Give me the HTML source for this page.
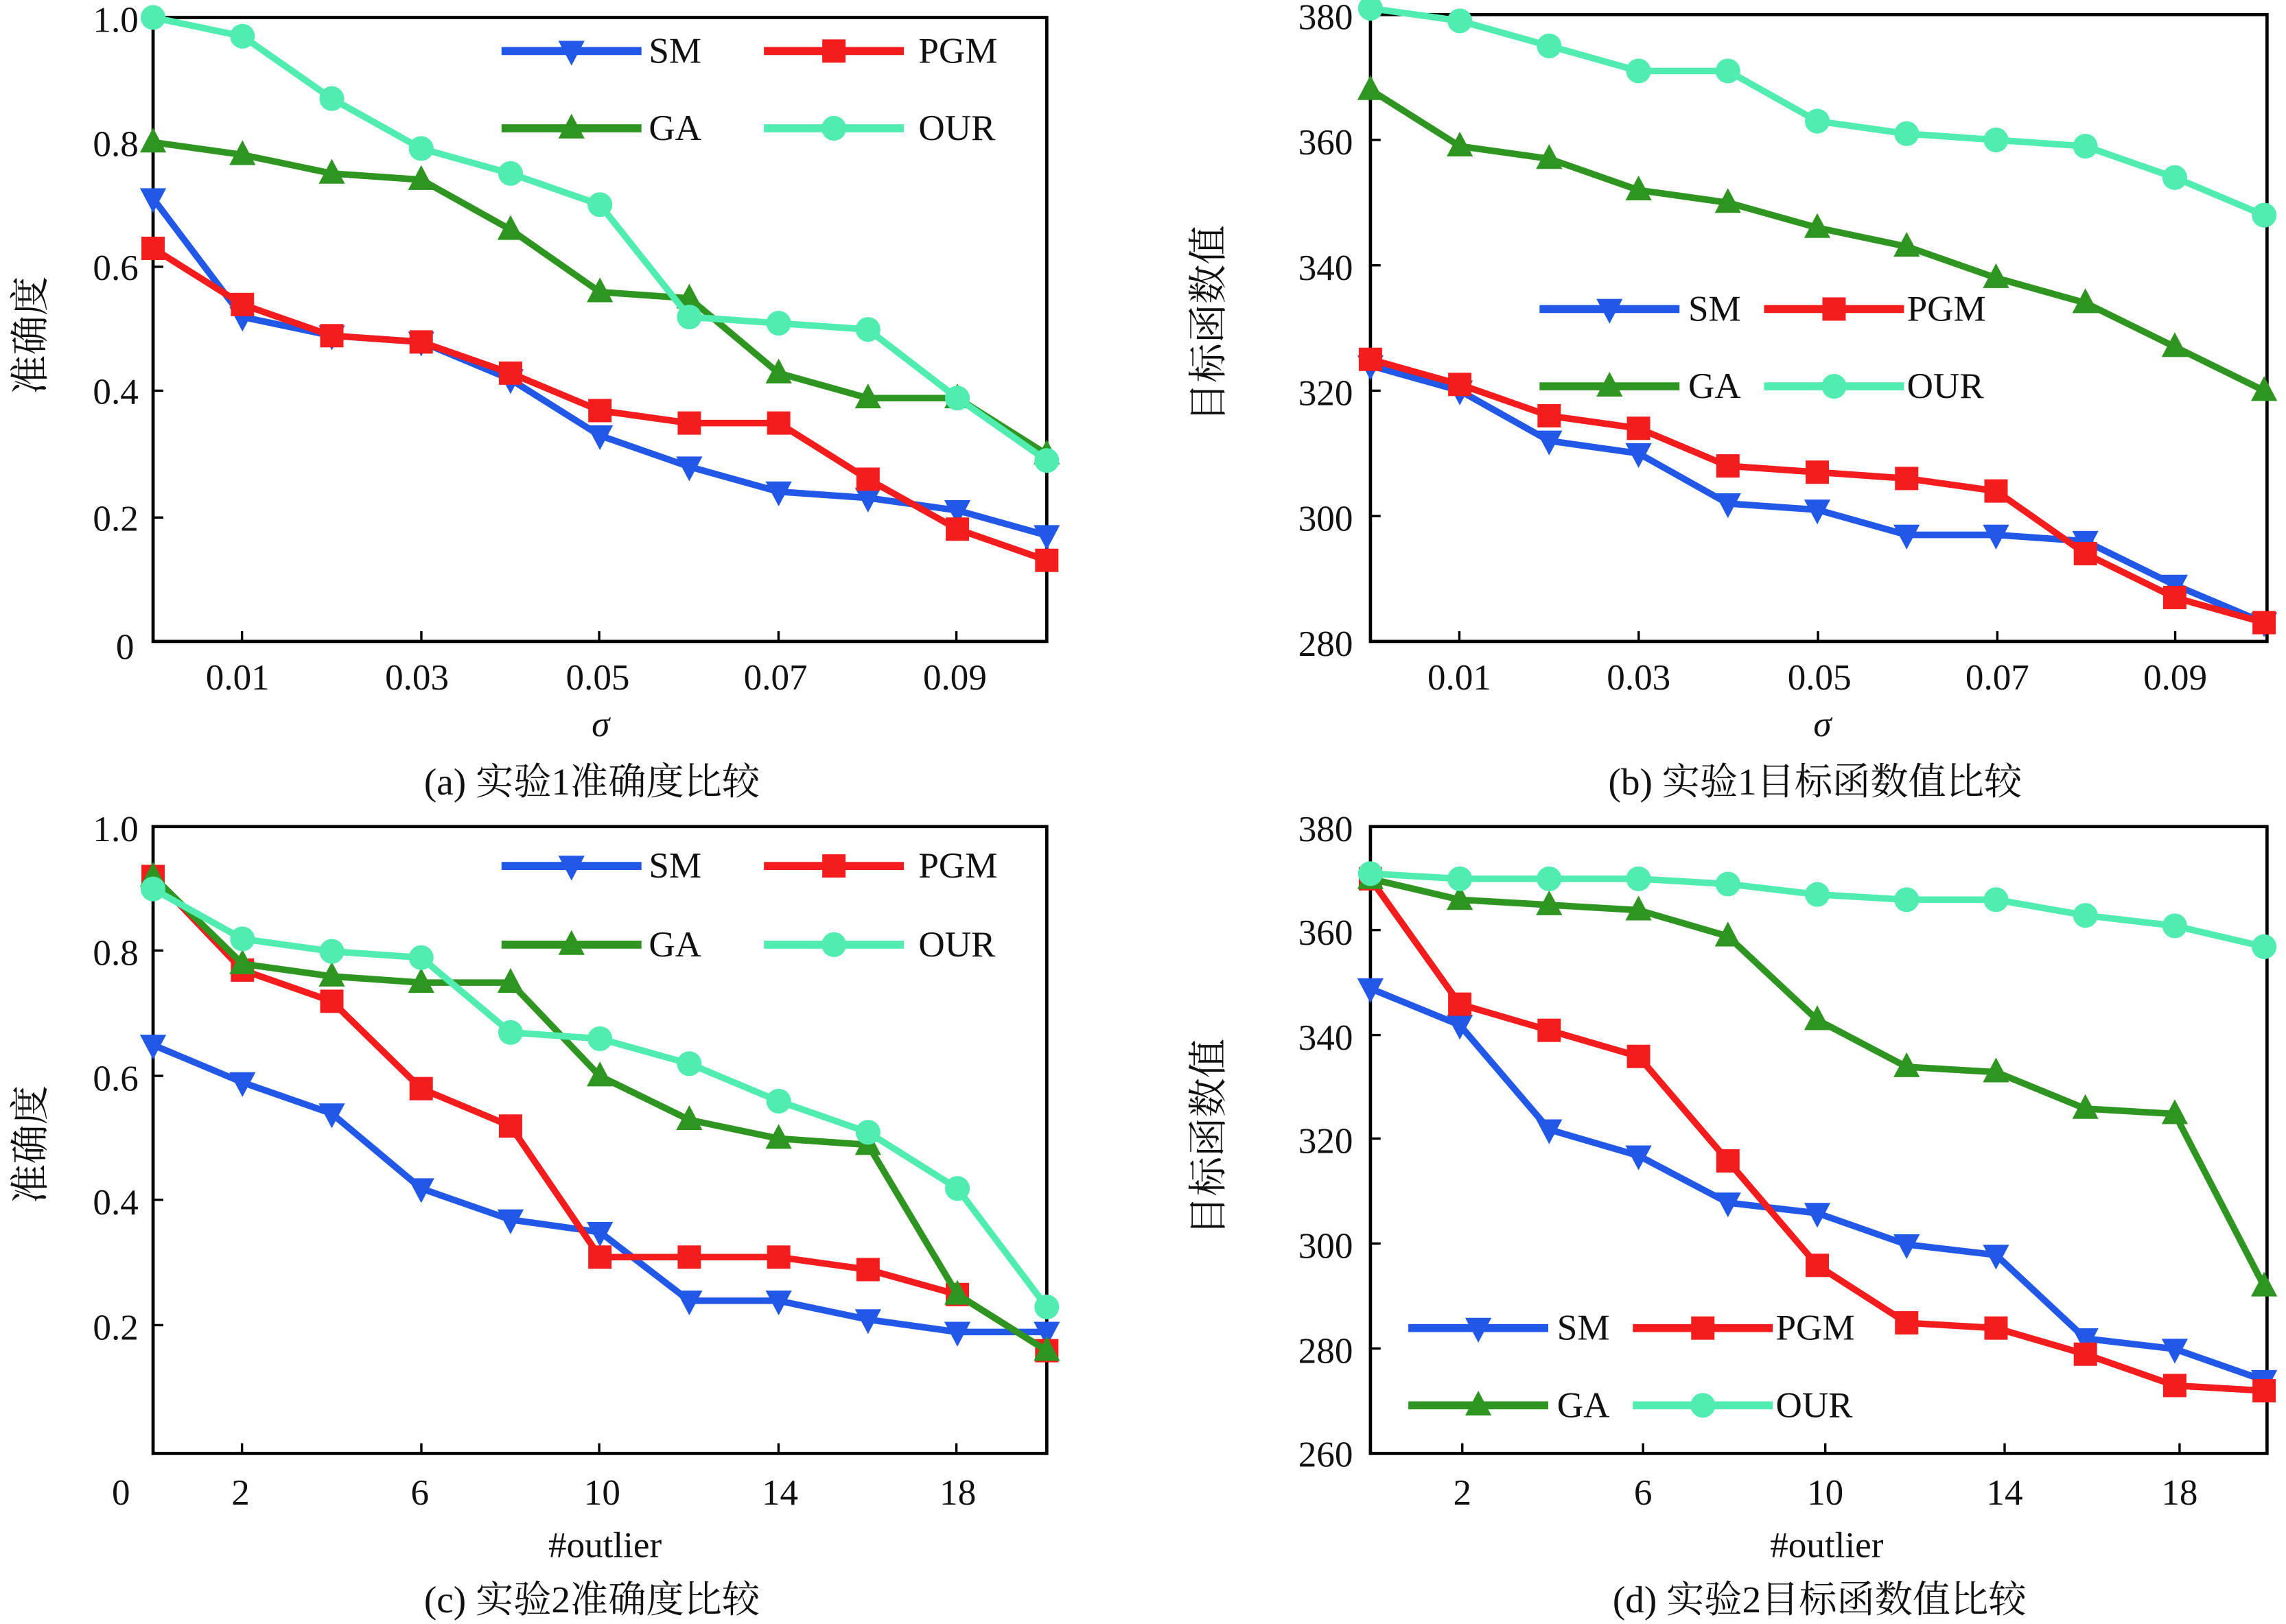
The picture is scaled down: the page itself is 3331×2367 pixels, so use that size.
<!DOCTYPE html>
<html><head><meta charset="utf-8"><style>
html,body{margin:0;padding:0;background:#fff;}
svg{display:block;}
text{font-family:"Liberation Serif","Noto Serif CJK SC",serif;fill:#111;}
</style></head><body>
<svg id="s" width="3331" height="2367" viewBox="0 0 1568 1114" preserveAspectRatio="none" xmlns="http://www.w3.org/2000/svg">
<g id="axes" stroke="#000" stroke-width="2.2" fill="none">
<rect x="105" y="12" width="613" height="428"/>
<rect x="940" y="10" width="615" height="430"/>
<rect x="105" y="567" width="613" height="430"/>
<rect x="940" y="567" width="615" height="430"/>
</g>
<g id="ticks" stroke="#000" stroke-width="1.6"></g>
<g id="series"></g>
<g font-size="25">
<!-- a -->
<text x="95" y="22" text-anchor="end">1.0</text>
<text x="95" y="107" text-anchor="end">0.8</text>
<text x="95" y="192" text-anchor="end">0.6</text>
<text x="95" y="277" text-anchor="end">0.4</text>
<text x="95" y="364" text-anchor="end">0.2</text>
<text x="92" y="452" text-anchor="end">0</text>
<text x="163" y="473" text-anchor="middle">0.01</text>
<text x="286" y="473" text-anchor="middle">0.03</text>
<text x="410" y="473" text-anchor="middle">0.05</text>
<text x="532" y="473" text-anchor="middle">0.07</text>
<text x="655" y="473" text-anchor="middle">0.09</text>
<text x="412" y="505" text-anchor="middle" font-style="italic">σ</text>
<text x="406" y="545" text-anchor="middle" font-size="26">(a) 实验1准确度比较</text>
<text transform="translate(30,230) rotate(-90)" text-anchor="middle" font-size="27">准确度</text>
<!-- b -->
<text x="928" y="20" text-anchor="end">380</text>
<text x="928" y="106" text-anchor="end">360</text>
<text x="928" y="192" text-anchor="end">340</text>
<text x="928" y="278" text-anchor="end">320</text>
<text x="928" y="364" text-anchor="end">300</text>
<text x="928" y="450" text-anchor="end">280</text>
<text x="1001" y="473" text-anchor="middle">0.01</text>
<text x="1124" y="473" text-anchor="middle">0.03</text>
<text x="1248" y="473" text-anchor="middle">0.05</text>
<text x="1370" y="473" text-anchor="middle">0.07</text>
<text x="1492" y="473" text-anchor="middle">0.09</text>
<text x="1250" y="505" text-anchor="middle" font-style="italic">σ</text>
<text x="1245" y="545" text-anchor="middle" font-size="26">(b) 实验1目标函数值比较</text>
<text transform="translate(838,222) rotate(-90)" text-anchor="middle" font-size="27">目标函数值</text>
<!-- c -->
<text x="95" y="577" text-anchor="end">1.0</text>
<text x="95" y="662" text-anchor="end">0.8</text>
<text x="95" y="748" text-anchor="end">0.6</text>
<text x="95" y="833" text-anchor="end">0.4</text>
<text x="95" y="919" text-anchor="end">0.2</text>
<text x="83" y="1032" text-anchor="middle">0</text>
<text x="165" y="1032" text-anchor="middle">2</text>
<text x="288" y="1032" text-anchor="middle">6</text>
<text x="413" y="1032" text-anchor="middle">10</text>
<text x="535" y="1032" text-anchor="middle">14</text>
<text x="657" y="1032" text-anchor="middle">18</text>
<text x="415" y="1068" text-anchor="middle">#outlier</text>
<text x="406" y="1106" text-anchor="middle" font-size="26">(c) 实验2准确度比较</text>
<text transform="translate(30,785) rotate(-90)" text-anchor="middle" font-size="27">准确度</text>
<!-- d -->
<text x="928" y="577" text-anchor="end">380</text>
<text x="928" y="648" text-anchor="end">360</text>
<text x="928" y="720" text-anchor="end">340</text>
<text x="928" y="791" text-anchor="end">320</text>
<text x="928" y="863" text-anchor="end">300</text>
<text x="928" y="935" text-anchor="end">280</text>
<text x="928" y="1006" text-anchor="end">260</text>
<text x="1003" y="1032" text-anchor="middle">2</text>
<text x="1127" y="1032" text-anchor="middle">6</text>
<text x="1252" y="1032" text-anchor="middle">10</text>
<text x="1375" y="1032" text-anchor="middle">14</text>
<text x="1495" y="1032" text-anchor="middle">18</text>
<text x="1253" y="1068" text-anchor="middle">#outlier</text>
<text x="1248" y="1106" text-anchor="middle" font-size="26">(d) 实验2目标函数值比较</text>
<text transform="translate(838,780) rotate(-90)" text-anchor="middle" font-size="27">目标函数值</text>
<!-- legends -->
<text x="445" y="43">SM</text><text x="630" y="43">PGM</text>
<text x="445" y="96">GA</text><text x="630" y="96">OUR</text>
<text x="1158" y="220">SM</text><text x="1308" y="220">PGM</text>
<text x="1158" y="273">GA</text><text x="1308" y="273">OUR</text>
<text x="445" y="602">SM</text><text x="630" y="602">PGM</text>
<text x="445" y="656">GA</text><text x="630" y="656">OUR</text>
<text x="1068" y="919">SM</text><text x="1218" y="919">PGM</text>
<text x="1068" y="972">GA</text><text x="1218" y="972">OUR</text>
</g>
</svg>
<script>
var NS="http://www.w3.org/2000/svg";
var C={SM:"#2158e8",PGM:"#f41c1c",GA:"#2e9620",OUR:"#50ecb0"};
function el(t,a,p){var e=document.createElementNS(NS,t);for(var k in a)e.setAttribute(k,a[k]);p.appendChild(e);return e;}
var G=document.getElementById("series"),T=document.getElementById("ticks");
function marker(k,x,y,g){var c=C[k];
 if(k=="SM")el("polygon",{points:(x-9)+","+(y-7)+" "+(x+9)+","+(y-7)+" "+x+","+(y+10),fill:c},g);
 else if(k=="PGM")el("rect",{x:x-8,y:y-8,width:16,height:16,fill:c},g);
 else if(k=="GA")el("polygon",{points:(x-9)+","+(y+7)+" "+(x+9)+","+(y+7)+" "+x+","+(y-10),fill:c},g);
 else el("circle",{cx:x,cy:y,r:8.5,fill:c},g);}
function plot(x0,x1,y0,y1,v0,v1,data){
 ["SM","PGM","GA","OUR"].forEach(function(k){var d=data[k],pts=[];
  for(var i=0;i<d.length;i++){var x=x0+(x1-x0)*i/(d.length-1),y=y0+(y1-y0)*(d[i]-v0)/(v1-v0);pts.push([x,y]);}
  el("polyline",{points:pts.map(function(p){return p.join(",")}).join(" "),fill:"none",stroke:C[k],"stroke-width":4.5,"stroke-linejoin":"round"},G);
  pts.forEach(function(p){marker(k,p[0],p[1],G);});});}
function legend(xa,xb,y1,y2){var w=[[xa,y1,"SM"],[xb,y1,"PGM"],[xa,y2,"GA"],[xb,y2,"OUR"]];
 w.forEach(function(a){var x=a[0],y=a[1];el("line",{x1:x-48,x2:x+48,y1:y,y2:y,stroke:C[a[2]],"stroke-width":5.5},G);marker(a[2],x,y,G);});}
function yt(x,ys){ys.forEach(function(y){el("line",{x1:x,x2:x+7,y1:y,y2:y},T);});}
function xt(y,xs){xs.forEach(function(x){el("line",{x1:x,x2:x,y1:y,y2:y-7},T);});}
yt(105,[98,183,268,355]);xt(440,[166,289,411,534,656]);
yt(940,[96,182,268,354]);xt(440,[1001,1124,1247,1370,1492]);
yt(105,[652,738,823,909]);xt(997,[166,289,411,534,656]);
yt(940,[638,710,781,853,925]);xt(997,[1003,1127,1252,1375,1495]);
plot(105,718,440,12,0,1,{
SM:[.71,.52,.49,.48,.42,.33,.28,.24,.23,.21,.17],
PGM:[.63,.54,.49,.48,.43,.37,.35,.35,.26,.18,.13],
GA:[.80,.78,.75,.74,.66,.56,.55,.43,.39,.39,.30],
OUR:[1.0,.97,.87,.79,.75,.70,.52,.51,.50,.39,.29]});
plot(940,1553,440,10,280,380,{
SM:[324,320,312,310,302,301,297,297,296,289,283],
PGM:[325,321,316,314,308,307,306,304,294,287,283],
GA:[368,359,357,352,350,346,343,338,334,327,320],
OUR:[381,379,375,371,371,363,361,360,359,354,348]});
plot(105,718,995,567,0,1,{
SM:[.65,.59,.54,.42,.37,.35,.24,.24,.21,.19,.19],
PGM:[.92,.77,.72,.58,.52,.31,.31,.31,.29,.25,.16],
GA:[.92,.78,.76,.75,.75,.60,.53,.50,.49,.25,.16],
OUR:[.90,.82,.80,.79,.67,.66,.62,.56,.51,.42,.23]});
plot(940,1553,997,567,260,380,{
SM:[349,342,322,317,308,306,300,298,282,280,274],
PGM:[370,346,341,336,316,296,285,284,279,273,272],
GA:[370,366,365,364,359,343,334,333,326,325,292],
OUR:[371,370,370,370,369,367,366,366,363,361,357]});
legend(392,572,35,88);legend(1104,1258,212,265);legend(392,572,594,648);legend(1014,1168,911,964);
</script>
</body></html>
